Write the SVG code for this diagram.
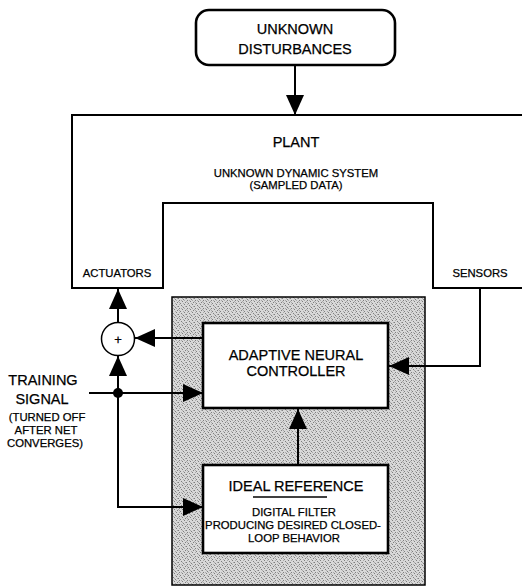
<svg xmlns="http://www.w3.org/2000/svg" width="522" height="587" viewBox="0 0 522 587">
  <style>
    text { font-family: "Liberation Sans", Arial, sans-serif; fill: #000; text-anchor: middle; stroke: #000; stroke-width: 0.25; }
    .big { font-size: 14.5px; }
    .small { font-size: 11.3px; }
    .line { fill: none; stroke: #000; stroke-width: 2; }
    .box { fill: #fff; stroke: #000; stroke-width: 2.6; }
    .dk { fill: #7e7e7e; }
    .md { fill: #a9a9a9; }
  </style>
  <defs>
    <!-- irregular halftone-style grey screen for the controller enclosure -->
    <pattern id="screen" width="8" height="8" patternUnits="userSpaceOnUse">
      <rect width="8" height="8" fill="#d8d8d8"/>
      <rect class="dk" x="0" y="0" width="1" height="1"/>
      <rect class="dk" x="5" y="1" width="1" height="1"/>
      <rect class="dk" x="2" y="2" width="1" height="1"/>
      <rect class="dk" x="7" y="3" width="1" height="1"/>
      <rect class="dk" x="3" y="4" width="1" height="1"/>
      <rect class="dk" x="6" y="5" width="1" height="1"/>
      <rect class="dk" x="1" y="6" width="1" height="1"/>
      <rect class="dk" x="4" y="7" width="1" height="1"/>
      <rect class="md" x="3" y="0" width="1" height="1"/>
      <rect class="md" x="1" y="2" width="1" height="1"/>
      <rect class="md" x="6" y="2" width="1" height="1"/>
      <rect class="md" x="0" y="4" width="1" height="1"/>
      <rect class="md" x="5" y="4" width="1" height="1"/>
      <rect class="md" x="3" y="6" width="1" height="1"/>
      <rect class="md" x="7" y="7" width="1" height="1"/>
      <rect class="md" x="2" y="5" width="1" height="1"/>
    </pattern>
    <marker id="arrow" viewBox="0 0 20 18" refX="20" refY="9" markerWidth="20" markerHeight="18" markerUnits="userSpaceOnUse" orient="auto">
      <path d="M0,0 L20,9 L0,18 Z" fill="#000"/>
    </marker>
  </defs>

  <!-- controller enclosure -->
  <g id="enclosure">
    <rect x="172" y="297" width="253" height="288" fill="url(#screen)" stroke="#000" stroke-width="1.5"/>
  </g>

  <!-- disturbance source -->
  <g id="disturbances">
    <rect x="196" y="10" width="199" height="55" rx="13" ry="13" class="box" stroke-width="2.2"/>
    <text class="big" x="295" y="34">UNKNOWN</text>
    <text class="big" x="295" y="54">DISTURBANCES</text>
  </g>

  <!-- plant outline -->
  <g id="plant">
    <path class="line" d="M522,115 H72 V288 H163 V203 H433 V288 H522"/>
    <text class="big" x="296" y="147">PLANT</text>
    <text class="small" x="296" y="177">UNKNOWN DYNAMIC SYSTEM</text>
    <text class="small" x="296" y="189">(SAMPLED DATA)</text>
    <text class="small" x="117" y="277">ACTUATORS</text>
    <text class="small" x="480" y="277">SENSORS</text>
  </g>

  <g id="controller">
    <rect x="203" y="323" width="185" height="85" class="box"/>
    <text class="big" x="296" y="360">ADAPTIVE NEURAL</text>
    <text class="big" x="296" y="376">CONTROLLER</text>
  </g>

  <g id="reference">
    <rect x="203" y="465" width="185" height="88" class="box"/>
    <text class="big" x="296" y="491">IDEAL REFERENCE</text>
    <line x1="253" y1="497" x2="327" y2="497" stroke="#000" stroke-width="1.5"/>
    <text class="small" x="294" y="516">DIGITAL FILTER</text>
    <text class="small" x="293" y="529">PRODUCING DESIRED CLOSED-</text>
    <text class="small" x="294" y="542">LOOP BEHAVIOR</text>
  </g>

  <g id="summer">
    <circle cx="118" cy="339" r="16.5" fill="#fff" stroke="#000" stroke-width="1.5"/>
    <text x="118" y="344" style="font-size:13px">+</text>
  </g>

  <g id="training">
    <text class="big" x="43" y="385">TRAINING</text>
    <text class="big" x="42" y="404">SIGNAL</text>
    <text class="small" x="47" y="421">(TURNED OFF</text>
    <text class="small" x="46" y="434">AFTER NET</text>
    <text class="small" x="45" y="447">CONVERGES)</text>
  </g>

  <!-- signal paths -->
  <g id="connectors">
    <line class="line" x1="295" y1="65" x2="295" y2="115" marker-end="url(#arrow)"/>
    <line class="line" x1="118" y1="322" x2="118" y2="289" marker-end="url(#arrow)"/>
    <line class="line" x1="203" y1="338" x2="135" y2="338" marker-end="url(#arrow)"/>
    <line class="line" x1="118" y1="393" x2="118" y2="356" marker-end="url(#arrow)"/>
    <line class="line" x1="89" y1="393" x2="203" y2="393" marker-end="url(#arrow)"/>
    <path class="line" d="M118,393 V507 H203" marker-end="url(#arrow)"/>
    <line class="line" x1="298" y1="465" x2="298" y2="409" marker-end="url(#arrow)"/>
    <path class="line" d="M480,288 V366 H389" marker-end="url(#arrow)"/>
    <circle cx="118" cy="393" r="5" fill="#000"/>
  </g>
</svg>
